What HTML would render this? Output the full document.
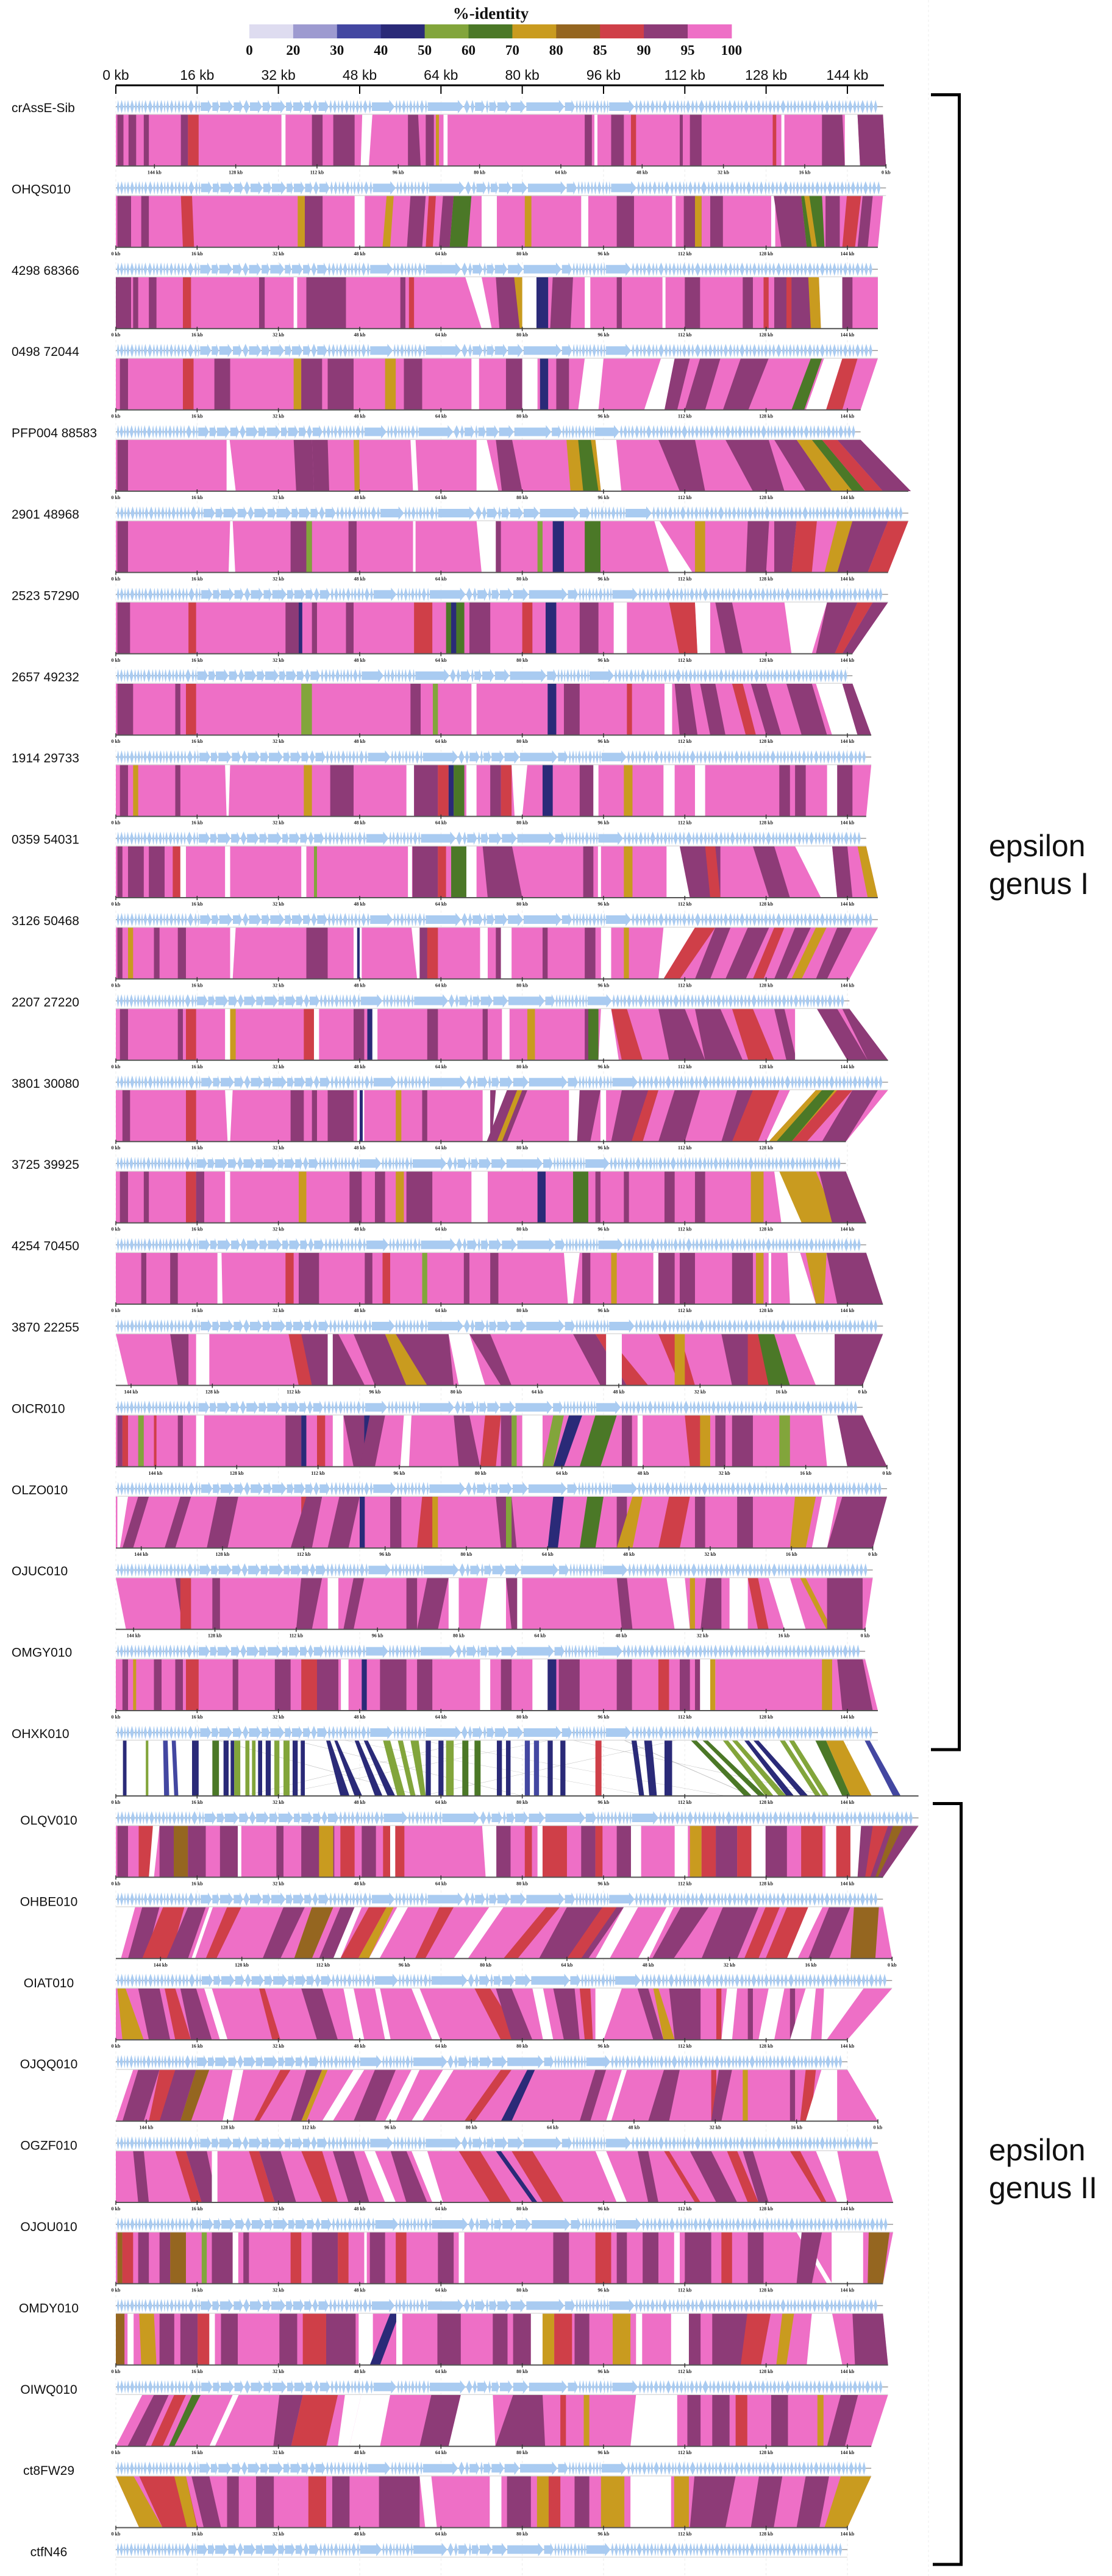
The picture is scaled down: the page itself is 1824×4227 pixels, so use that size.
<!DOCTYPE html>
<html><head><meta charset="utf-8"><title>Genome comparison - epsilon crAss-like phages</title>
<style>
html,body{margin:0;padding:0;background:#fff;}
svg{display:block;}
.lbl{font-family:"Liberation Sans",sans-serif;font-size:21px;fill:#111;}
.scl{font-family:"Liberation Sans",sans-serif;font-size:23px;fill:#111;}
.tk{font-family:"Liberation Serif",serif;font-size:8px;font-weight:bold;fill:#222;}
.lg{font-family:"Liberation Serif",serif;font-size:23px;font-weight:bold;fill:#111;}
.grp{font-family:"Liberation Sans",sans-serif;font-size:50px;fill:#111;}
</style></head>
<body>
<svg id="chart" xmlns="http://www.w3.org/2000/svg" width="1824" height="4227" viewBox="0 0 1824 4227">
  <rect x="0" y="0" width="1824" height="4227" fill="#fff"/>
  <g id="grid"></g>
  <g id="legend">
    <text x="805" y="31" text-anchor="middle" font-family="Liberation Serif, serif" font-weight="bold" font-size="27" fill="#111">%-identity</text>
  </g>
  <g id="scale"></g>
  <g id="bands"></g>
  <g id="axes"></g>
  <g id="genes"></g>
  <g id="labels"></g>
  <g id="brackets">
    <path d="M1527 155.5 H1573.5 V2871 H1527" fill="none" stroke="#000" stroke-width="5"/>
    <path d="M1530 2959.5 H1576.5 V4208 H1530" fill="none" stroke="#000" stroke-width="5"/>
    <text class="grp" x="1622" y="1405">epsilon</text>
    <text class="grp" x="1622" y="1467">genus I</text>
    <text class="grp" x="1622" y="3545">epsilon</text>
    <text class="grp" x="1622" y="3607">genus II</text>
  </g>
</svg>
<script>
const genomeNames=["crAssE-Sib","OHQS010","4298 68366","0498 72044","PFP004 88583","2901 48968","2523 57290","2657 49232","1914 29733","0359 54031","3126 50468","2207 27220","3801 30080","3725 39925","4254 70450","3870 22255","OICR010","OLZO010","OJUC010","OMGY010","OHXK010","OLQV010","OHBE010","OIAT010","OJQQ010","OGZF010","OJOU010","OMDY010","OIWQ010","ct8FW29","ctfN46"];
const genomeLengths=[151,151.6,150,150,146.6,156,152,145,148.7,147.7,150,144.4,152,143.7,147.7,151,147,151.8,149,147.5,150,158,151,152.8,144,150,153,151,152,148.7,144];
const reversedGenomes=[1,16,17,18,19,23,25];
const legendLabels=["0","20","30","40","50","60","70","80","85","90","95","100"];
const legendClasses=["Q","W","V","N","L","G","Y","B","R","M","P"];
const scaleTicks=[0,16,32,48,64,80,96,112,128,144];
const geneLengths=[0.5,0.7,0.4,0.6,0.8,0.5,0.6,0.4,0.7,0.9,0.5,0.6,0.7,0.4,0.6,0.8,0.5,0.7,0.6,0.5,1.2,0.6,0.4,
2.2,1.4,2.6,1.8,1.2,2.4,1.6,2.8,1.3,2.1,1.5,1.1,2.0,
0.6,0.8,0.5,0.7,0.9,0.4,0.6,0.7,0.5,1.0,0.6,4.5,
0.5,0.6,0.8,0.4,0.7,0.5,0.6,0.9,0.5,7.0,
1.2,0.8,2.0,0.6,1.5,2.5,3.0,7.5,2.0,
0.5,0.6,0.4,0.7,0.5,0.6,0.8,0.5,0.6,0.4,5.0,
0.6,0.8,0.5,0.7,0.9,0.6,0.5,1.1,0.7,0.6,0.8,0.5,0.4,0.9,0.7,0.6,1.2,0.5,0.7,0.8,
0.7,0.5,0.6,0.9,0.8,0.5,0.6,1.0,0.7,0.5,0.9,0.6,0.5,0.8,0.6,0.7,1.1,0.6,0.5,0.7,
0.5,0.8,0.6,0.7,0.9,0.5,0.7,1.0,0.6,0.6,0.8,0.4,0.6,0.9,0.7,0.5,1.0,0.6,0.8,0.7];
const comp0="0 151 0 151.6 P;0.3 1.5 M;2.5 4 M;5.5 6.5 M;12.8 14.2 M;14.2 16.3 R;32.6 33.4 X;38.6 40.7 M;42.8 47 M;48.5 50.5 48.2 49.8 X;57.5 59.5 57.5 60 M;61 62.6 M;63 63.6 Y;64.5 65.3 X;92.3 93.7 M;94.2 94.8 X;97.5 100 M;101.4 102.4 R;111 111.6 M;113 115.3 M;129.3 130 R;131 131.6 X;139 143 139 143.5 M;143.5 146 143.5 146.5 X;146 151 146.5 151.6 M";
const comp1="0 151 0 150 P;0.3 3 M;5 6.5 M;12.8 15 13.2 15.4 R;35.8 37.2 Y;37.2 40.7 M;47 49 X;53.3 54.7 52.5 54 Y;58 61 57.3 60.3 M;61.6 63 61 62.4 R;64.4 66.5 63.6 65.7 M;66.5 70 65.7 69.2 G;72 75 X;80.5 81.8 Y;91.6 93 X;98.6 102 M;109.5 110.2 X;111.8 115.3 M;114 115.3 Y;117 119.5 M;129 129.8 X;129.5 134.9 131 136 M;134.9 139 136 139.5 G;135.5 136.5 137 138 Y;139.7 142.5 M;143.9 146.7 143 145.5 R;147 149 146 148 M";
const comp2="0 150 P;0 3 M;3.4 4.4 M;6.5 8 M;13.2 14.8 R;28.2 29.3 M;35 35.7 X;37.5 45.3 M;56 57 M;57.7 58.7 R;68.8 72 72 74 X;74.8 79 75.5 80 M;78.4 80 79.5 80.5 Y;80 82.8 X;82.8 85.1 N;86 90 85.5 89.5 M;92.3 93.4 X;98.6 99.6 M;107.6 108.2 X;112 115 M;123.4 125.4 M;127.5 128.5 R;129.6 136.8 M;132 133 R;136.3 138.4 136.8 138.8 Y;138.4 143 138.8 143 X;143 145 M";
const comp3="0 150 0 146.6 P;0.8 2.4 M;13.2 15.3 R;19.4 22.5 M;35 36.5 Y;36.5 40.6 M;41.7 46.8 M;53 55.1 Y;56.7 60.3 M;70 71.5 X;76.8 80 M;80 83 X;83.5 85.1 N;86.7 89.2 M;92.3 96 91 95 X;107.3 110 104 108 X;110 113 108 110.5 M;115 119 112 116 M;123 128.5 119.5 124.5 M;136.8 139 133 135.5 G;139.4 143 135.8 139.8 X;143 146 139.8 143 R";
const comp4="0 146.6 0 156.5 P;0.3 2.4 M;21.8 22.4 21.8 23.6 X;35 38.6 35.5 39 M;38.6 41.7 39 42 M;46.8 47.9 47 48 Y;58 59 58.5 59.5 X;71 73 71 75.3 X;74.8 78 76 80 M;88.7 94.4 89.5 95.5 Y;91 93.5 92 95 G;94.4 98.5 95.5 99.5 X;106.8 114 111 116 M;120 128.5 125.4 131.6 M;129.6 134 135.8 141 M;134 137 141 145 Y;137 139 145 147.5 G;139 142 147.5 151 R;142 146.6 151 156.5 M";
const comp5="0 156 0 152 P;0.3 2.4 M;22.5 23 22.2 23.5 X;34.4 38.6 M;37.5 38.6 L;45.8 47.4 M;58.5 59 X;71 74.8 72 74.8 X;74.8 75.8 M;83 84 L;86 88.2 N;92.3 95.4 G;106 107 108.9 113.5 X;114 116 Y;124.4 128.6 124 128 M;129.6 134 129.6 133 M;134 138 133 137 R;142 145 139.5 142 Y;145 152 142 148 M;152 156 148 152 R";
const comp6="0 152 0 145 P;0.3 2.8 M;14.3 15.8 R;33.4 36 M;36 36.7 N;38.6 39.6 M;45.3 46.8 M;58.7 62.3 R;65 68.6 G;66 67 N;69.6 73.7 M;80 82 R;84.6 86.7 N;91.3 95 M;98 100.6 X;108.9 114 110.9 114.5 R;114 117 114.5 117 X;118 121.3 120 123.4 M;131.6 140 133 137 X;140 146 137.8 141.5 M;146 149 141.5 143 R;149 152 143 145 M";
const comp7="0 145 0 148.7 P;0.3 3.4 M;11.7 12.7 M;13.8 15.8 R;36.5 38.6 L;58 60 M;62.4 63.4 L;70 71 X;85 86.7 N;88.2 91.3 M;100.6 101.6 R;108 109.5 X;110 113 111 114.5 M;115 118 117 120 M;121.3 123.4 124 126 R;125 128 128 131 M;132 137 135 140 M;137.8 143 141 146 X;143 145 146 148.7 M";
const comp8="0 148.7 0 147.7 P;0.8 2.4 M;3.4 4.4 Y;11.7 12.7 M;21.5 22.5 21.8 22.2 X;37 38.6 Y;42.2 46.8 M;57.2 58.7 X;58.7 63.4 M;63.4 65.5 R;65.5 66.5 N;66.5 68.6 G;69 71 X;73.7 75.8 M;75.8 77.9 R;77.9 81 78.5 80 X;84 86 N;91.3 94 M;94 95 X;100 101.7 Y;107.8 110 X;114 116 X;130.6 132.7 M;133.7 135.8 M;140 142 X;142 145 M";
const comp9="0 147.7 0 150 P;0.3 1.3 M;2.4 5.5 M;6.5 9.6 M;11.2 12.7 R;12.7 13.8 X;21.5 22.5 X;36.5 37.5 X;39 39.6 L;57.5 58.3 X;58.4 63.4 M;63.4 65 R;66 69 G;69 71 X;72.2 78 73.2 80 M;92 94 M;94.9 95.5 X;100 101.7 Y;108.4 111 108.4 113 X;111 119 113 119 M;116 118 117 119 R;125.4 129.6 128.6 132.7 M;133.7 141 138.8 142 X;141 144 142 145 M;146 147.7 148 150 Y";
const comp10="0 150 0 144.4 P;0.3 1.3 M;2.4 3.4 Y;7.5 8.6 M;12.2 13.8 M;22.5 23.6 22.5 23 X;37.5 41.7 M;46.8 48.4 X;47.5 48 N;58.2 59.8 59.3 60.8 X;59.8 62.3 M;61.3 63.4 R;71.7 73.2 X;74.8 75.8 M;75.8 77.9 X;84 85 M;92.3 94.4 M;95.5 97.5 X;100 101 Y;107.8 114 106.8 107.8 X;114 118 107.8 111 R;118 121 114 117 M;124.4 128.6 120 124 M;129.6 131.6 125.4 127.5 R;133.7 136.8 129.6 132 M;137.8 139.9 133 135 Y;142 145 137.8 140 M;145 150 140 144.4 P";
const comp11="0 144.4 0 152 P;0.8 2.4 M;12.2 13.2 M;13.8 15.8 R;21.5 22.5 X;22.5 23.6 Y;37 39 R;39 40 X;46.8 48.9 M;49.5 50.5 N;50.5 51.5 X;61.3 63.4 M;72.2 73.2 M;76 77.5 X;81 82.5 Y;92.3 94.4 M;93 95 G;95.5 97.5 95 99 X;97.5 100.6 99.6 103.7 R;106.8 112 108.9 116 M;114 119 116 123.4 M;121.3 125.4 124.5 129.6 R;129.6 131.6 132 134 M;133.7 138 133.7 144 X;138 142 144 148 M;143 144.4 148 152 M";
const comp12="0 152 0 143.7 P;1.3 2.8 M;13.8 15.8 R;21.5 23 22 22.5 X;34.4 37 M;38.6 39.6 M;41.7 46.8 M;47.5 48.9 X;48 48.6 N;55.1 56.2 Y;60.3 61.3 M;72.2 73.7 X;73.7 74.8 M;74.8 77.9 74 77 X;77 81 73 77 M;79 80 75 76 Y;89.2 91.3 X;91.3 95.4 90.8 93.4 M;95.4 96.5 X;99.6 106.8 97.5 103.7 M;104.8 106.8 101.5 103.7 R;110 115 106.8 112 M;122.3 129.6 119.2 125.4 M;125.4 130.6 121.3 126.4 R;132.7 137.8 128 128.5 X;137.8 145 128.5 136 Y;139 141.5 130 133 G;142 145 133 136 R;145 150 139 143.7 M";
const comp13="0 143.7 0 147.7 P;0.8 2.4 M;5.5 6.5 M;13.8 15.8 R;15.8 17.4 M;21.5 22.5 X;36 37.5 Y;46 48.4 M;51 53 M;55.1 56.7 Y;57.2 62.3 M;70 73.2 X;83 84.6 N;90 93 G;94.4 95.4 M;100 101 M;108 110 M;114 116 M;125 127.5 Y;129.6 135 131 140 X;130.6 137.8 135 142 Y;138.4 143.7 141 147.7 M";
const comp14="0 147.7 0 151 P;5 6 M;10.7 12.2 M;20 20.8 20 21 X;33.4 35 R;36 40 M;49 50.5 M;52.5 54 R;60.3 61.3 L;68.5 69.6 M;73.7 75.3 M;88.2 91.3 89 90 X;91.8 93.4 M;97.5 98.6 Y;105.8 106.8 X;106.8 110 M;111 114 M;121.3 125.4 M;126 127.5 Y;128.5 129 X;132.2 134.7 132.7 137.8 X;135.8 139.9 137.8 139.4 Y;139.9 147.7 142 151 M";
const comp15="0 151 2.4 147 P;10.7 14.3 12.2 14.3 M;15.8 18.4 X;34 37.5 36 38.6 R;36.5 43.8 38.6 49 M;41.7 42.7 X;46.8 53 51 57.2 M;53 57.2 57.2 62.3 Y;55.1 65.5 61.3 66.5 M;65.5 69.6 67.5 72.7 X;69.6 73.7 75.8 77.9 M;90 94.4 95.4 100.6 M;94.4 96.5 100.6 104.8 R;96.5 99.6 X;106.8 111 111 114 R;110 112 Y;119.2 124.4 121.3 126.4 M;124.4 128.5 R;126.4 129.6 128.5 132.7 G;133.7 141.5 137.8 141.5 X;141.5 151 141.5 147 M";
const comp16="0 147 0 151.8 P;0.3 1.3 M;1.3 2.4 R;4.4 5.5 L;7.5 8 R;12.2 13.2 M;15.8 17.4 X;33.4 36.5 M;36.5 37.5 N;39.6 41.2 R;42.7 44.8 X;44.8 48.9 46.8 50 M;48.9 50 N;50 53 48 51 M;56.7 58.2 56 57.7 X;66.5 69.6 67.5 71.7 M;72.7 75.8 71.7 74.8 R;75.8 77.9 M;77.9 78.9 L;80 84 X;86.1 88.2 84 86.1 L;89.2 91.8 86.1 88.2 N;94.4 98.6 91.3 95.4 G;99.6 101.6 M;102.7 103.7 X;112 115 113 116 R;115 117 Y;118 120 M;121.3 125.4 M;130.6 132.7 L;139 142 140 144 X;142 147 144 151.8 M";
const comp17="0 151.8 0 149 P;0.3 2.4 0.3 0.8 X;4.4 6.5 1.3 3.4 M;12.7 14.8 9.6 11.7 M;20 24.1 17.9 22 M;36.5 38.6 R;37.5 40.6 34.4 38.6 M;44 48 41.7 45.8 M;48 49 N;54 56.2 M;60.3 63.4 59.3 62.3 R;62.3 63.4 Y;74.8 77.9 75.8 78.9 M;76.8 77.9 L;86.1 88.2 85 87 N;92.8 96 91.3 94.4 G;98.6 100.6 M;101.7 103.7 98.6 101.7 Y;108.9 113 106.8 111 R;114 116 M;122.3 125.4 M;133.7 137.8 132.7 135.8 Y;139 142 137 140 X;143 151.8 140 149 M";
const comp18="0 149 2 147.5 P;11.7 14.3 13.2 14.8 M;12.7 14.8 R;19 20.5 M;36.5 40.6 35.5 38.6 M;41.7 43.8 X;46.8 48.9 44.8 46.8 M;57.2 59.3 M;61.3 65.5 59.3 63.4 M;65.5 67.5 X;73.2 76.8 71.7 76.8 X;76.8 79 77.9 80 M;79 80 X;98.6 100.6 99.6 101.7 M;108.4 112 110 113 X;113 114 Y;116.2 119.2 115.1 119.2 M;120.8 124.4 X;124.4 126.4 126.4 128.5 R;128.5 132.7 131.6 135.8 X;134.7 135.8 139.9 141 Y;140 147 140 147 M";
const comp19="0 147.5 0 150 P;1.3 2.4 M;3.4 4 Y;7.5 9 M;11.7 13.2 M;13.8 16.3 R;23 24.1 M;31.3 34.4 M;36.5 39.6 R;39.6 43.8 M;44.3 45.8 X;48.4 49.4 N;52 57.2 M;59.3 62.3 M;71.7 73.7 X;75.8 77.9 M;82 85 X;85 86.7 N;87.2 91.3 M;98.6 101.6 M;106.8 108.9 R;111 113 M;114 115 M;115 118 X;117 118 Y;139 141 Y;142 147 143 149 M";
const comp20="20 20.3 60 60.3 W;45 45.3 105 105.3 W;60 60.3 120 120.3 W;70 70.3 25 25.3 W;100 100.3 125 125.3 W;85 85.3 30 30.3 W;35 35.3 80 80.3 W;90 90.3 140 140.3 W;110 110.3 60 60.3 W;1.4 2.1 N;5.9 6.4 L;9.3 10.2 9.5 10.5 V;11 11.8 11.5 12.3 V;15 16.3 N;19 20.3 G;21.2 22.2 N;22.6 23.3 N;23.3 24.5 L;25.5 26.3 L;26.8 27.5 L;28 28.8 N;29.5 30.5 N;31.2 32.2 L;33 34.2 L;34.8 35.8 N;36.4 37.2 N;41.4 42.2 44.2 46 N;43 43.6 47 48.5 N;47 47.8 51 52.5 N;48.8 49.6 53.5 55 N;52.6 54 55.4 57 L;55.5 56.5 58 59 L;58 59.6 60 61 L;61 62 N;63.5 64.5 N;65 66.5 L;68.2 69.4 G;70.6 71.8 G;75 76 N;76.8 77.7 N;80.5 81.5 V;82.3 83.3 V;85 86 N;87.5 88.5 N;94.4 95.6 R;101.5 102.5 103 104 N;104 105.5 105 106.5 N;108 109.5 108 109.5 N;113.2 114.3 123.7 125.2 G;115.5 116.5 126.5 127.9 G;119.5 120.5 127.9 129.5 L;121.3 122.3 130.5 132 L;123.7 124.6 132 133.5 N;125.5 126.5 134.8 136.3 N;130.7 131.7 137.7 138.8 L;132.5 133.5 139.2 140.4 L;137.7 139.8 143 144.6 G;139.8 143.2 144.6 148.8 Y;147.4 148.4 153 154.5 V";
const comp21="0 158 0 151 P;0.3 2.4 M;4.5 7.3 R;7.3 8.6 6.5 7.5 X;8.6 11.4 M;11.4 14.2 B;14.2 17.7 M;20.5 24 M;24 24.7 X;31.6 33 M;36.5 43 M;40 42.8 Y;44.2 47 R;48.4 51.2 M;52.6 56.8 R;54 55 X;72.1 74.9 72.8 75 X;74.9 77.7 M;80.5 81.9 R;83 84 X;84 88.8 R;91.6 94.4 M;94.4 95.8 R;98.6 101.4 M;101.4 103.4 X;110 112.6 X;113 115.3 Y;115.3 118.1 R;118.1 122.3 M;122.3 125.1 R;125.1 127.9 X;127.9 132.1 M;134.9 139.1 R;139.7 142.5 X;141.8 144.6 R;144.6 146.7 X;146.7 158 146 151 M;149 152 147.5 148.5 R;153 155 149.5 150 B";
const comp22="3.8 151 1 152.8 P;5.2 8.6 2.4 5.9 M;9.3 13.5 5.2 10.7 R;14.2 17.7 10 14.2 M;18.4 19.1 14.9 15.6 X;21.9 24.7 17.7 19.8 R;33 37.2 28.9 32.4 M;38.6 42.8 35.1 38.6 B;44.2 47 40 42.8 M;47 48.4 42.8 44.2 X;49.8 53.3 44.2 47.7 R;53.3 54.7 47.7 49.8 Y;55.4 57.5 49.8 51.9 X;63.7 66.5 58.9 60.9 R;73.5 76.3 66.5 69.3 X;84.7 87.4 76.3 79.1 R;88.8 100 83.3 93 M;95.8 98.6 88.8 91.6 R;100 102.8 94.4 97.2 X;108.4 109.8 102.8 104.9 X;111.2 116.7 105.6 109.8 M;119.5 126.5 115.3 122.3 M;127.9 130.7 123.7 126.5 R;132.1 136.3 127.9 132.1 R;136.3 139.1 132.1 134.2 X;140.4 144.6 136.3 140.4 M;145.3 150.2 144.6 149.5 B";
const comp23="0 152.8 0 144 P;0.3 1.9 1.3 5.5 Y;4.4 8.6 6.5 10.7 M;9.6 11.7 11.7 14.8 R;12.7 15.8 14.8 18.9 M;17.4 18.9 20.5 22 X;28.2 29.3 30.8 32.4 R;36.5 40.6 39.6 43.7 M;44.8 46.8 46.8 48.9 X;51 52 53 54.1 X;58.2 59.8 62.3 63.9 X;70.6 73.7 75.8 79.9 R;74.8 77.9 77.9 82 M;82 84.1 84.1 86.1 X;86.1 90.3 88.2 91.3 M;91.3 93.4 92.3 93.9 R;94.4 99.6 94.4 96 X;102.7 104.8 105.8 107.8 M;105.8 106.8 107.8 110 Y;108.9 115.1 110 115.1 M;118.2 119.2 R;120.3 122.3 119.2 121.3 X;124.4 125.4 M;128.5 131.6 126.5 129.6 X;132.7 133.7 M;135.8 137.8 132.7 136.8 X;139.4 147.2 138.9 139.9 X";
const comp24="3.4 144 0 150 P;4.4 8.6 1.3 5.5 M;8.6 11.7 6.5 9.6 R;11.7 15.8 8.6 12.7 M;15.8 18.4 12.7 14.8 B;23 25.1 21 23 X;32.4 34.4 27.2 28.2 R;37.5 40.6 34.4 36.5 M;40.6 41.7 36.5 37.5 Y;46.8 48.9 40.6 42.7 X;51 55.1 46.8 51 M;58.2 59.8 53 55.1 X;64.4 66.5 58.2 60.3 X;75.8 77.9 68.6 70.6 R;81 82.5 75.8 77.9 N;94.4 96.5 91.3 93.4 M;99.6 100.6 96.5 97.5 X;107.9 111 104.8 108.9 M;117.2 118.2 R;118.7 121.3 117.2 119.2 M;123.4 124.4 Y;132.7 133.7 M;135.8 137.8 134.7 136.8 R;138.9 142 135.8 142 X;142 144 142 148 P";
const comp25="0 150 0 153 P;3.4 5.5 4.4 6.5 M;11.7 13.8 14.8 16.9 R;13.8 17.9 16.9 20 M;18.9 20 X;26.2 28.2 29.3 31.3 R;28.2 32.4 31.3 35.5 M;36.5 40.6 40.6 43.7 R;42.7 46.8 45.8 49.9 M;48.9 51 53 55.1 X;54.1 57.2 57.2 61.3 M;58.2 61.3 62.3 64.4 X;67.5 71.7 73.7 77.9 R;74.8 75.8 82 83 N;77.9 82 84.1 88.2 R;94.4 96.5 98.6 100.6 X;102.7 104.8 104.8 106.8 M;107.9 108.9 114 115.1 R;113 117.2 118.2 122.3 M;120.3 122.3 124.4 126.5 R;123.4 125.4 126.5 128.5 M;132.7 134.7 138.9 139.9 R;137.8 142 142 144 X";
const comp26="0 153 0 151 P;0.3 1.3 B;1.3 3.4 R;4.4 6.5 M;8.6 10.7 M;10.7 13.8 B;16.9 17.9 L;18.9 23 M;23 24.1 X;25.1 26.2 M;34.4 36.5 R;38.6 43.7 M;43.7 45.8 R;48.9 49.4 X;50 53 M;55.1 57.2 R;63.4 66.5 M;67.5 68.6 X;86.1 89.2 M;94.4 97.5 R;98.6 100.6 M;103.7 106.8 M;109.9 111 X;112 117.2 M;119.2 121.3 R;124.4 127.5 M;134 135 140 141 X;135 139 134 137 M;140.9 147.1 X;148.2 152.3 148 151 B";
const comp27="0 151 0 152 P;0 1.7 B;2.3 3.5 X;4.6 7.5 5 8 Y;8.6 11.5 M;12.7 16.1 M;16.1 18.4 R;18.4 19.5 X;20.7 24 M;32.2 35.7 M;36.8 41.4 R;41.4 47.2 M;47.8 50.6 X;54 55.8 50 52 N;55.2 56.4 X;63.3 67.9 M;74.2 77.1 M;78.2 81.7 M;81.7 84 X;84 86.3 Y;86.3 89.8 R;90.3 93.2 M;97.8 101.3 Y;102.4 103.6 X;109.3 112.8 X;112.8 115.1 M;117.4 126.6 117.4 125 M;124.3 128.9 123 127 R;131.2 133.5 130 132 Y;137 142.7 136 145 X;141 143 143 145 P;145 151 145.5 152 M";
const comp28="5.2 152 0 148.7 P;7.5 10.4 2.3 5.8 M;11.5 13.8 6.9 9.2 R;15 16.7 10.4 11.5 G;23 24.2 18.4 19.5 X;32.2 36.8 31 34.5 M;36.8 43.7 34.5 41.4 R;45.1 48.3 43.7 46 X;48.3 54 46 52 X;62.1 67.9 59.8 65.5 M;67.9 74.2 65.5 74.7 X;78.2 84 74.7 84.5 M;87.5 88.6 R;92.1 93.2 Y;102.4 110.5 101.3 110.5 X;112.5 115.1 M;117.4 120.8 M;122 124.3 R;129 132.3 M;138.1 139.3 Y;142.7 146.1 140 143.5 M";
const comp29="0 148.7 4.6 144 P;0 3.5 4.6 9.2 Y;4.6 13.8 9.2 16.1 R;11.5 13.8 14 16 Y;14.9 18.4 17.3 20.7 M;21.9 24.2 M;27.6 31.1 M;37.9 41.4 R;42.6 46 M;51.8 59.8 M;59.8 62.1 60.9 63.2 X;73.6 75.9 X;77 81.7 M;82.9 85.2 Y;85.2 87.5 R;90.3 93.2 M;95.5 100.1 Y;101.3 109.3 X;109.9 112.8 Y;113.9 122 113 120 M;126.6 131.2 125 129.5 M;135.8 140.4 134 138.5 M;142.7 148.7 139.5 144 Y";
const comparisons=[comp0,comp1,comp2,comp3,comp4,comp5,comp6,comp7,comp8,comp9,comp10,comp11,comp12,comp13,comp14,comp15,comp16,comp17,comp18,comp19,comp20,comp21,comp22,comp23,comp24,comp25,comp26,comp27,comp28,comp29];

const COLORS={X:"#ffffff",P:"#ee6fc6",M:"#8d3b77",R:"#cf3f48",B:"#956620",Y:"#c99b1f",G:"#4b7827",L:"#82a53b",N:"#2a2a78",V:"#4347a1",W:"#9d9ad0",Q:"#dedcf0"};
const NS="http://www.w3.org/2000/svg";
const X0=190, PXKB=8.333;
function xs(kb){return X0+kb*PXKB;}
function geneY(i){return i<=20?175+133.4*i:2983+133.4*(i-21);}
function el(tag,attrs,parent){const e=document.createElementNS(NS,tag);for(const k in attrs)e.setAttribute(k,attrs[k]);parent.appendChild(e);return e;}

const grid=document.getElementById('grid');
scaleTicks.forEach(function(k){
  const g=el('line',{x1:xs(k),x2:xs(k),y1:150,y2:4227,stroke:'#ececec','stroke-width':1,'stroke-dasharray':'4 4'},grid);
  
  
});
const gEdge=el('line',{x1:1523,x2:1523,y1:0,y2:4227,stroke:'#ececec','stroke-width':1,'stroke-dasharray':'4 4'},grid);



const legend=document.getElementById('legend');
const LX0=409, LW=71.9;
legendClasses.forEach(function(c,i){
  const r=el('rect',{x:LX0+i*LW,y:40,width:LW+0.5,height:23,fill:COLORS[c]},legend);
  
  
});
legendLabels.forEach(function(t,i){
  const tx=el('text',{x:LX0+i*LW,y:90,'text-anchor':'middle','class':'lg'},legend);
  tx.textContent=t;
  
  
});

const scale=document.getElementById('scale');
const sl=el('line',{x1:X0,x2:1450,y1:140,y2:140,stroke:'#000','stroke-width':3},scale);


scaleTicks.forEach(function(k){
  const t=el('line',{x1:xs(k),x2:xs(k),y1:140,y2:154,stroke:'#000','stroke-width':2},scale);
  
  
  const tx=el('text',{x:xs(k),y:131,'text-anchor':'middle','class':'scl'},scale);
  tx.textContent=k+' kb';
  
  
});

const bands=document.getElementById('bands');
comparisons.forEach(function(str,i){
  const top=geneY(i)+13, bot=geneY(i+1)-36;
  const g=el('g',{},bands);
  
  
  str.split(';').forEach(function(b){
    const f=b.trim().split(/\s+/);
    let ts,te,bs,be,c;
    if(f.length===3){ts=+f[0];te=+f[1];bs=ts;be=te;c=f[2];}
    else {ts=+f[0];te=+f[1];bs=+f[2];be=+f[3];c=f[4];}
    const p=el('polygon',{points:xs(ts)+','+top+' '+xs(te)+','+top+' '+xs(be)+','+bot+' '+xs(bs)+','+bot,fill:COLORS[c]},g);
    if(c==='W'){p.setAttribute('fill','#9a9a9a');p.setAttribute('opacity','0.6');}
    
    
  });
});

const axes=document.getElementById('axes');
for(let i=1;i<genomeNames.length;i++){
  const y=geneY(i)-36, L=genomeLengths[i], rev=reversedGenomes.indexOf(i)>=0;
  const a=el('line',{x1:X0,x2:xs(L),y1:y,y2:y,stroke:'#555','stroke-width':2},axes);
  
  
  for(let k=0;k<=L;k+=16){
    const xx=rev?xs(L-k):xs(k);
    const t=el('line',{x1:xx,x2:xx,y1:y-3,y2:y+4,stroke:'#333','stroke-width':1.5},axes);
    
    
    const tx=el('text',{x:xx,y:y+13,'text-anchor':'middle','class':'tk'},axes);
    tx.textContent=k+' kb';
    
    
  }
}

const genes=document.getElementById('genes');
genomeNames.forEach(function(n,i){
  const cy=geneY(i), L=genomeLengths[i], f=L/151;
  const g=el('g',{},genes);
  
  
  const bl=el('line',{x1:X0,x2:xs(L),y1:cy,y2:cy,stroke:'#9a9a9a','stroke-width':1.5},g);
  
  
  const sep=el('line',{x1:X0,x2:xs(L),y1:cy+12.5,y2:cy+12.5,stroke:'#dcdcdc','stroke-width':1.5},g);
  
  
  let pos=0.2*f;
  geneLengths.forEach(function(len,j){
    const a=xs(pos), b=xs(pos+len*f);
    if(b>xs(L))return;
    let pts;
    if(len<1.3){
      const m=(a+b)/2;
      pts=a+','+cy+' '+m+','+(cy-11)+' '+b+','+cy+' '+m+','+(cy+11);
    } else {
      const h=Math.min(9,(b-a)*0.35);
      pts=a+','+(cy-7)+' '+(b-h)+','+(cy-7)+' '+(b-h)+','+(cy-11)+' '+b+','+cy+' '+(b-h)+','+(cy+11)+' '+(b-h)+','+(cy+7)+' '+a+','+(cy+7);
    }
    const p=el('polygon',{points:pts,fill:'#a9cbf1'},g);
    
    
    pos+=len*f+0.1*f;
  });
});

const labels=document.getElementById('labels');
genomeNames.forEach(function(n,i){
  const cy=geneY(i);
  const attrs=i<=20?{x:19,y:cy+9,'class':'lbl'}:{x:80,y:cy+11,'class':'lbl','text-anchor':'middle'};
  const t=el('text',attrs,labels);
  t.textContent=n;
  
  
});
</script>
</body></html>
